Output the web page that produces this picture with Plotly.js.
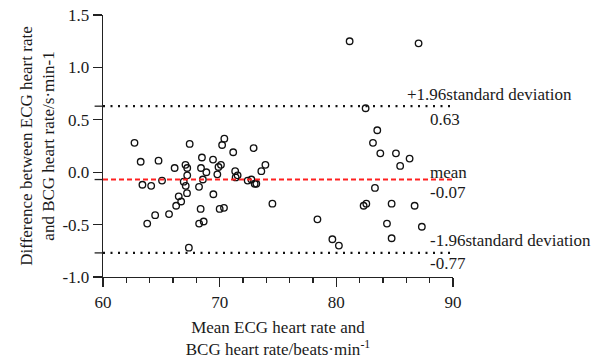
<!DOCTYPE html>
<html><head><meta charset="utf-8">
<script src="https://cdn.plot.ly/plotly-3.0.1.min.js"></script>
<style>html,body{margin:0;padding:0;background:#fff}#chart{width:596px;height:363px}</style>
</head><body><div id="chart"></div>
<script>
// Mean of ECG and BCG heart rate (beats/min)
const meanHR = [62.70, 63.23, 63.38, 63.79, 64.13, 64.47, 64.76, 65.06, 65.66, 66.14,
  66.27, 66.49, 66.70, 66.92, 67.07, 67.09, 67.22, 67.22, 67.20, 67.36,
  67.43, 68.23, 68.24, 68.40, 68.37, 68.48, 68.56, 68.63, 68.86, 69.43,
  69.46, 69.80, 69.90, 70.11, 70.00, 70.37, 70.21, 70.40, 71.16, 71.33,
  71.54, 71.37, 72.40, 72.72, 72.91, 73.00, 73.14, 73.57, 73.92, 74.52,
  78.38, 79.66, 80.22, 81.14, 82.34, 82.57, 82.51, 83.14, 83.31, 83.51,
  83.77, 84.34, 84.74, 84.74, 85.11, 85.47, 86.28, 86.71, 87.05, 87.33];
// Difference between ECG and BCG heart rate
const diffHR = [0.28, 0.10, -0.12, -0.49, -0.13, -0.41, 0.11, -0.08, -0.40, 0.04,
  -0.32, -0.23, -0.28, -0.09, 0.07, -0.13, 0.04, -0.03, -0.20, -0.72,
  0.27, -0.14, -0.49, 0.04, -0.35, 0.14, -0.07, -0.47, 0.00, 0.12,
  -0.21, -0.02, 0.05, 0.07, -0.35, -0.34, 0.26, 0.32, 0.19, 0.01,
  -0.03, -0.05, -0.08, -0.07, 0.23, -0.11, -0.11, 0.01, 0.07, -0.30,
  -0.45, -0.64, -0.70, 1.25, -0.32, -0.30, 0.61, 0.28, -0.15, 0.40,
  0.18, -0.49, -0.30, -0.63, 0.18, 0.06, 0.13, -0.32, 1.23, -0.52];
const upperLoA = 0.63;
const meanDiff = -0.07;
const lowerLoA = -0.77;
const xRange = [60, 90];
const yRange = [-1.0, 1.5];
const xTickVals = [60, 70, 80, 90];
const xTickText = ['60', '70', '80', '90'];
const yTickVals = [-1.0, -0.5, 0.0, 0.5, 1.0, 1.5];
const yTickText = ['-1.0', '-0.5', '0.0', '0.5', '1.0', '1.5'];
const upperLabel = '+1.96standard deviation';
const meanLabel = 'mean';
const lowerLabel = '-1.96standard deviation';

const FONT = '"Liberation Serif", serif';
const TXT = '#1a1a1a';

const trace = {
  x: meanHR, y: diffHR, type: 'scatter', mode: 'markers',
  marker: {symbol: 'circle', size: 6.5, color: 'rgba(0,0,0,0)', line: {color: '#111', width: 1.35}},
  cliponaxis: false, hoverinfo: 'x+y'
};

function hline(y, color, dash, width) {
  return {type: 'line', xref: 'x', yref: 'y', x0: xRange[0], x1: xRange[1], y0: y, y1: y,
    line: {color: color, dash: dash, width: width}, layer: 'above'};
}
function stub(y) {
  return {type: 'line', xref: 'paper', yref: 'y', x0: -0.024, x1: 0, y0: y, y1: y,
    line: {color: '#222', width: 1.3}};
}

function ann(x, y, text, yshift) {
  return {xref: 'x', yref: 'y', x: x, y: y, text: text, showarrow: false,
    xanchor: 'left', yanchor: 'middle', yshift: yshift,
    font: {family: FONT, size: 17, color: TXT}};
}

const layout = {
  width: 596, height: 363,
  margin: {l: 103, r: 143, t: 15, b: 86},
  paper_bgcolor: '#fff', plot_bgcolor: '#fff',
  showlegend: false,
  font: {family: FONT, size: 17, color: TXT},
  xaxis: {
    range: xRange, tickmode: 'array', tickvals: xTickVals, ticktext: xTickText,
    ticks: 'outside', ticklen: 9, tickwidth: 1.3, tickcolor: '#222',
    minor: {dtick: 2, ticks: 'outside', ticklen: 5, tickwidth: 1.2, tickcolor: '#222', showgrid: false},
    showline: true, linecolor: '#222', linewidth: 1.3, showgrid: false, zeroline: false,
    tickfont: {family: FONT, size: 17, color: TXT},
    title: {text: 'Mean ECG heart rate and<br>BCG heart rate/beats·min<sup>-1</sup>',
      font: {family: FONT, size: 17, color: TXT}, standoff: 10}
  },
  yaxis: {
    range: yRange, tickmode: 'array', tickvals: yTickVals, ticktext: yTickText,
    ticks: 'outside', ticklen: 9, tickwidth: 1.3, tickcolor: '#222',
    showline: true, linecolor: '#222', linewidth: 1.3, showgrid: false, zeroline: false,
    tickfont: {family: FONT, size: 17, color: TXT},
    title: {text: 'Difference between ECG heart rate<br>and BCG heart rate/s·min-1',
      font: {family: FONT, size: 17, color: TXT}, standoff: 3}
  },
  shapes: [
    hline(upperLoA, '#111', '2px,5.5px', 2.2),
    hline(meanDiff, '#ff2020', '5px,3px', 2),
    hline(lowerLoA, '#111', '2px,5.5px', 2.2),
    stub(upperLoA), stub(meanDiff), stub(lowerLoA)
  ],
  annotations: [
    ann(85.85, upperLoA, upperLabel, 12),
    ann(87.85, upperLoA, upperLoA.toFixed(2), -13),
    ann(87.85, meanDiff, meanLabel, 7),
    ann(87.85, meanDiff, meanDiff.toFixed(2), -12.5),
    ann(87.85, lowerLoA, lowerLabel, 12),
    ann(87.85, lowerLoA, lowerLoA.toFixed(2), -11)
  ]
};

Plotly.newPlot('chart', [trace], layout, {displayModeBar: false, staticPlot: true});
</script>
</body></html>
